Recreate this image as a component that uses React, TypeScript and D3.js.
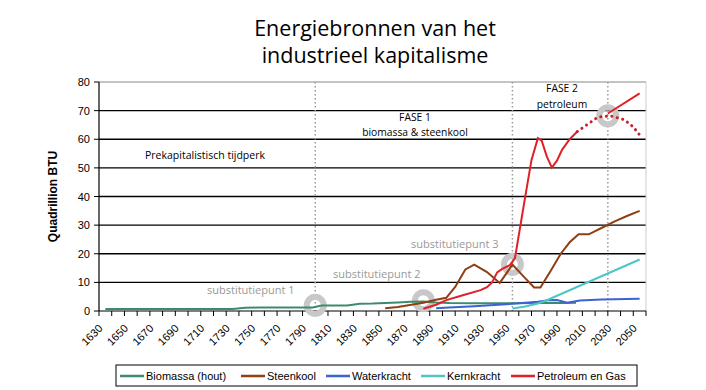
import React from 'react'
import * as d3 from 'd3'

// jaartallen op de x-as
const yearLabels = [1630, 1650, 1670, 1690, 1710, 1730, 1750, 1770, 1790, 1810, 1830,
  1850, 1870, 1890, 1910, 1930, 1950, 1970, 1990, 2010, 2030, 2050]
const yTicks = [0, 10, 20, 30, 40, 50, 60, 70, 80]

// [jaar, quadrillion BTU]
const biomassa = [[1630, 0.7], [1730, 0.7], [1740, 1.1], [1750, 1.2], [1793, 1.2], [1800, 1.9],
  [1820, 1.9], [1830, 2.5], [1840, 2.6], [1850, 2.8], [1860, 3.0], [1870, 3.2], [1880, 3.3],
  [1890, 3.0], [1900, 2.8], [1920, 2.7], [1950, 2.7], [1970, 2.8], [1990, 2.8], [2000, 2.9]]
const steenkool = [[1850, 1.0], [1860, 1.4], [1867, 1.9], [1880, 2.9], [1890, 3.9], [1898, 4.6],
  [1905, 8.4], [1913, 14.5], [1920, 16.2], [1930, 13.6], [1940, 9.8], [1950, 16.2], [1960, 11.5],
  [1967, 8.2], [1972, 8.2], [1980, 14], [1988, 20], [1995, 24], [2002, 26.8], [2010, 26.8],
  [2020, 29], [2030, 31.2], [2040, 33.2], [2050, 35]]
const waterkracht = [[1890, 1.0], [1900, 1.2], [1920, 1.7], [1950, 2.5], [1970, 3.2], [1978, 3.75],
  [1985, 3.8], [1993, 2.9], [2003, 3.7], [2020, 4.0], [2050, 4.3]]
const kernkracht = [[1950, 0.9], [1960, 1.6], [1970, 2.6], [1977, 3.75], [2050, 18]]
const petroleum = [[1880, 0.8], [1890, 2.2], [1898, 3.8], [1911, 5.5], [1925, 7.3], [1930, 8.3],
  [1934, 10], [1938, 13.5], [1942, 14.7], [1948, 16], [1952, 18.5], [1960, 39.8], [1965, 52.8],
  [1970, 60.4], [1973, 59.5], [1977, 54], [1981, 50.1], [1985, 52.5], [1989, 56.3], [1995, 60],
  [2001, 62.7]]
const petroleumPiek = [[2001, 62.7], [2010, 65.5], [2017, 67.7], [2027, 68.2], [2038, 66.8],
  [2045, 64.3], [2050, 61.5]]
const petroleumTrend = [[2025, 69], [2050, 76]]

const substitutiePunten = [[1795, 2.0], [1880, 3.6], [1950, 16.3], [2025, 68.2]]
const faseGrenzen = [1795, 1950, 2025]

const series = [
  { name: 'Biomassa (hout)', color: '#3d8b6b', data: biomassa },
  { name: 'Steenkool', color: '#8e3f14', data: steenkool },
  { name: 'Waterkracht', color: '#3b63d2', data: waterkracht },
  { name: 'Kernkracht', color: '#4cc6c6', data: kernkracht },
  { name: 'Petroleum en Gas', color: '#e02029', data: petroleum },
]

const left = 99, right = 646, top = 82, bottom = 311

export default function App() {
  const x = d3.scaleLinear().domain([1625, 2055]).range([left, right])
  const y = d3.scaleLinear().domain([0, 80]).range([bottom, top])
  const line = d3.line<number[]>().x(d => x(d[0])).y(d => y(d[1]))
  const tickYears = d3.range(1625, 2056, 10)
  const sans = 'Open Sans, sans-serif'
  const arial = 'Liberation Sans, Arial, sans-serif'

  return (
    <svg width={706} height={390} style={{ position: 'absolute', left: 0, top: 0, background: '#fff' }}>
      <text x={375} y={36} textAnchor="middle" fontFamily={sans} fontSize={21.5}>Energiebronnen van het</text>
      <text x={375} y={63} textAnchor="middle" fontFamily={sans} fontSize={21.5}>industrieel kapitalisme</text>

      {/* rasterlijnen */}
      {yTicks.filter(t => t > 0 && t < 80).map(t => (
        <line key={t} x1={left} x2={right} y1={y(t)} y2={y(t)} stroke="#000" strokeWidth={1.3} />
      ))}
      <line x1={left} x2={right} y1={y(80)} y2={y(80)} stroke="#888" strokeWidth={1} />
      <line x1={right} x2={right} y1={top} y2={bottom} stroke="#ccc" strokeWidth={1} />

      {/* fasegrenzen */}
      {faseGrenzen.map(j => (
        <line key={j} x1={x(j)} x2={x(j)} y1={top} y2={bottom} stroke="#999" strokeWidth={1.5} strokeDasharray="1.5 2.5" />
      ))}

      {/* y-as */}
      <line x1={left} x2={left} y1={top} y2={bottom} stroke="#000" strokeWidth={1.2} />
      {yTicks.map(t => (
        <g key={t}>
          <line x1={left - 5} x2={left} y1={y(t)} y2={y(t)} stroke="#000" />
          <text x={90} y={y(t) + 4} textAnchor="end" fontFamily={arial} fontSize={11}>{t}</text>
        </g>
      ))}
      <text transform={`translate(57,${(top + bottom) / 2}) rotate(-90)`} textAnchor="middle"
        fontFamily={arial} fontSize={12} fontWeight="bold">Quadrillion BTU</text>

      {/* x-as */}
      <line x1={left} x2={right} y1={bottom} y2={bottom} stroke="#000" strokeWidth={1.2} />
      {tickYears.map(t => (
        <line key={t} x1={x(t)} x2={x(t)} y1={bottom} y2={bottom + 5} stroke="#000" />
      ))}
      {yearLabels.map(j => (
        <text key={j} transform={`translate(${x(j) - 2},${bottom + 18}) rotate(-45)`} textAnchor="end"
          fontFamily={arial} fontSize={11}>{j}</text>
      ))}

      {/* substitutiepunten */}
      {substitutiePunten.map((p, i) => (
        <circle key={i} cx={x(p[0])} cy={y(p[1])} r={8.5} fill="none" stroke="#c8c8c8" strokeWidth={6} />
      ))}

      {/* reeksen */}
      {series.map(s => (
        <path key={s.name} d={line(s.data) || ''} fill="none" stroke={s.color} strokeWidth={2} />
      ))}
      <path d={line(petroleumPiek) || ''} fill="none" stroke="#c8202a" strokeWidth={3}
        strokeDasharray="0.1 5.5" strokeLinecap="round" />
      <path d={line(petroleumTrend) || ''} fill="none" stroke="#e02029" strokeWidth={2} />

      {/* teksten */}
      <text x={145} y={159} fontFamily={sans} fontSize={10.5}>Prekapitalistisch tijdperk</text>
      <text x={415} y={121} textAnchor="middle" fontFamily={sans} fontSize={10.3}>FASE 1</text>
      <text x={415} y={136} textAnchor="middle" fontFamily={sans} fontSize={10.3}>biomassa &amp; steenkool</text>
      <text x={562} y={92} textAnchor="middle" fontFamily={sans} fontSize={10.3}>FASE 2</text>
      <text x={562} y={108} textAnchor="middle" fontFamily={sans} fontSize={10.3}>petroleum</text>
      <text x={207} y={294} fontFamily={sans} fontSize={11} fill="#999">substitutiepunt 1</text>
      <text x={333} y={278} fontFamily={sans} fontSize={11} fill="#999">substitutiepunt 2</text>
      <text x={411} y={248} fontFamily={sans} fontSize={11} fill="#999">substitutiepunt 3</text>

      {/* legenda */}
      <rect x={116} y={365} width={521} height={21} fill="#fff" stroke="#000" strokeWidth={1} />
      {series.map((s, i) => {
        const lx = [120, 241, 326, 421, 511][i]
        return (
          <g key={s.name}>
            <line x1={lx} x2={lx + 24} y1={376} y2={376} stroke={s.color} strokeWidth={2.5} />
            <text x={lx + 26} y={380} fontFamily={arial} fontSize={11}>{s.name}</text>
          </g>
        )
      })}
    </svg>
  )
}
